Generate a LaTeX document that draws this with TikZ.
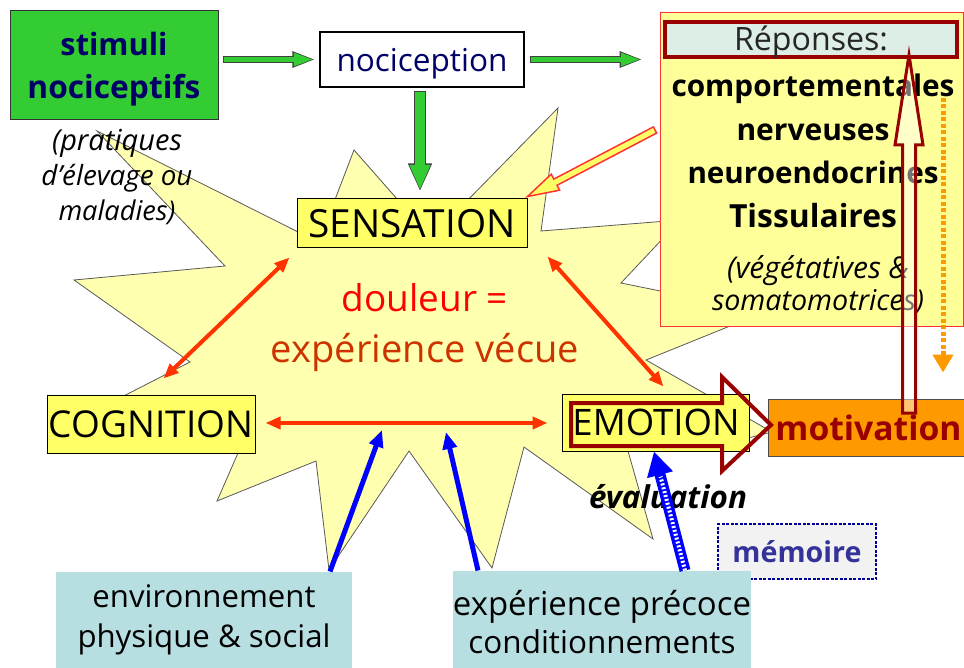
\documentclass[tikz,border=0pt]{standalone}
\usepackage{fontspec}
\setmainfont{Open Sans}
\usepackage{graphicx}
\usetikzlibrary{arrows.meta,calc}
\lineskiplimit=-1000pt
\definecolor{stimgreen}{HTML}{33CC33}
\definecolor{navy}{HTML}{000066}
\definecolor{boxyellow}{HTML}{FFFF66}
\definecolor{staryellow}{HTML}{FFFFB0}
\definecolor{repyellow}{HTML}{FFFF99}
\definecolor{repred}{HTML}{FF3333}
\definecolor{headfill}{HTML}{DDEEE6}
\definecolor{darkred}{HTML}{990000}
\definecolor{painred}{HTML}{FF0000}
\definecolor{painorange}{HTML}{CC3300}
\definecolor{arrowred}{HTML}{FF3300}
\definecolor{motorange}{HTML}{FF9900}
\definecolor{pureblue}{HTML}{0000FF}
\definecolor{envblue}{HTML}{B7DEE1}
\definecolor{memblue}{HTML}{000099}
\definecolor{memfill}{HTML}{F2F2F2}
\definecolor{memtext}{HTML}{333399}
\newcommand\fw[2]{\resizebox{#1pt}{!}{#2}}
\newcommand\lowr[2]{\raisebox{-#1pt}[\height][\depth]{#2}}
\begin{document}
\begin{tikzpicture}[x=1pt,y=-1pt,
  box/.style={draw, rectangle, inner sep=0pt, line width=1pt, align=center},
  ybox/.style={box, fill=boxyellow, draw=black},
  gout/.style={line width=#1, draw=black!75},
  orarrow/.style={line width=4pt, draw=arrowred, {Triangle[width=12pt,length=15pt]}-{Triangle[width=12pt,length=15pt]}},
  bluearrow/.style={line width=5pt, draw=pureblue, -{Triangle[width=14pt,length=17pt]}},
  txt/.style={inner sep=0pt, align=center}]
\useasboundingbox (0,0) rectangle (964,668);
\fill[white] (0,0) rectangle (964,668);

% starburst
\draw[fill=staryellow, draw=black!65, line width=0.8pt]
  (97,131) -- (320,243) -- (331,210) -- (354,150) -- (405,208) -- (460,208)
  -- (558,108) -- (541,231) -- (680,220) -- (668,233) -- (621,283) -- (680,295)
  -- (740,322) -- (646,360) -- (772,432) -- (740,440) -- (622,430) -- (653,539)
  -- (524,447) -- (492,568) -- (409,451) -- (329,570) -- (316,461) -- (217,501)
  -- (245,437) -- (110,403) -- (190,362) -- (74,280) -- (225,266) -- cycle;

% boxes
\node[box, fill=stimgreen, draw=black!80, minimum width=208pt, minimum height=109pt,
  text=navy, font=\fontsize{30}{43}\selectfont\bfseries] (stim) at (114,65.5)
  {\lowr{3.5}{\fw{107}{stimuli}}\\\lowr{3.5}{\fw{173}{nociceptifs}}};
\node[box, fill=white, line width=1.5pt, minimum width=204pt, minimum height=55pt, text=navy]
  (noci) at (422,59.5) {\lowr{4.5}{\fw{171}{nociception}}};
\node[txt, font=\fontsize{28}{35}\selectfont\itshape] (prat) at (117,177)
  {\fw{130}{(pratiques}\\\fw{151}{d'élevage ou}\\\fw{117}{maladies)}};
\node[ybox, minimum width=230pt, minimum height=49pt] (sens) at (412,223.5) {\fw{207}{SENSATION}};

\node[box, fill=repyellow, draw=repred, minimum width=303pt, minimum height=314pt] (rep) at (811.5,170) {};
\node[box, fill=headfill, draw=darkred, line width=4pt, minimum width=292pt, minimum height=35pt,
  text=black!85] (head) at (811,39.5) {\lowr{3}{\fw{154}{Réponses:}}};
\node[txt, font=\fontsize{30}{43.5}\selectfont\bfseries] (resp) at (813,151)
  {\fw{283}{comportementales}\\\fw{153}{nerveuses}\\\fw{251}{neuroendocrines}\\\fw{168}{Tissulaires}};
\node[txt, font=\fontsize{26}{32}\selectfont\itshape] (veg) at (818,285)
  {\fw{182}{(végétatives \&}\\\fw{212}{somatomotrices)}};

\node[txt, font=\fontsize{36}{51}\selectfont] (doul) at (425,328)
  {\textcolor{painred}{\fw{166}{douleur =}}\\\textcolor{painorange}{\fw{308}{expérience vécue}}};

\node[ybox, minimum width=208pt, minimum height=58pt] (cog) at (151,424) {\fw{204}{COGNITION}};
\node[ybox, minimum width=187pt, minimum height=57pt] (emobox) at (655.5,422.5) {};
\node[box, fill=motorange, draw=black!70, minimum width=200pt, minimum height=57pt, anchor=west,
  text=darkred, font=\bfseries] (motiv) at (768,427.5) {\fw{186}{motivation}};
% emotion block arrow
\draw[darkred, line width=4pt, line join=miter]
  (571,403) -- (722,403) -- (722,377) -- (771,425) -- (722,471) -- (722,446) -- (571,446) -- cycle;
\node[txt] (emo) at (656,422) {\fw{167}{EMOTION}};

\node[txt, font=\bfseries\itshape] (eval) at (668,497) {\fw{158}{évaluation}};
\node[box, fill=memfill, draw=memblue, line width=2pt, dash pattern=on 3pt off 1.5pt,
  minimum width=158pt, minimum height=55pt, text=memtext, font=\bfseries] (mem) at (797,551.5) {\fw{129}{mémoire}};
\node[box, draw=none, fill=envblue, minimum width=296pt, minimum height=96pt,
  font=\fontsize{30}{40}\selectfont] (env) at (204,620)
  {\fw{223}{environnement}\\\fw{253}{physique \& social}};
\node[box, draw=none, fill=envblue, minimum width=296pt, minimum height=97pt,
  font=\fontsize{30}{38}\selectfont] (expbox) at (602,619.5)
  {\lowr{3}{\fw{298}{expérience précoce}}\\\lowr{3}{\fw{267}{conditionnements}}};

% green arrows
\draw[gout=7pt, -{Triangle[width=15pt,length=23pt]}, shorten <=4pt, shorten >=4pt] (stim.east |- noci.west) -- (noci.west);
\draw[line width=5pt, stimgreen, -{Triangle[width=12pt,length=20pt]}, shorten <=5pt, shorten >=5.5pt] (stim.east |- noci.west) -- (noci.west);
\draw[gout=7pt, -{Triangle[width=15pt,length=23pt]}, shorten <=5pt, shorten >=17pt] (noci.east) -- (rep.west |- noci.east);
\draw[line width=5pt, stimgreen, -{Triangle[width=12pt,length=20pt]}, shorten <=6pt, shorten >=18.5pt] (noci.east) -- (rep.west |- noci.east);
\draw[gout=12pt, -{Triangle[width=22pt,length=28pt]}, shorten <=3pt, shorten >=7pt] (noci.south -| 420,0) -- (sens.north -| 420,0);
\draw[line width=10pt, stimgreen, -{Triangle[width=19pt,length=25pt]}, shorten <=4pt, shorten >=8.5pt] (noci.south -| 420,0) -- (sens.north -| 420,0);

% red/yellow arrow to sensation
\draw[repred, line width=1.5pt, fill=boxyellow, line join=miter]
  (sens.north east) ++(0,-2) -- (559.6,190.2) -- (557.0,185.3) -- (656.6,133.1) -- (653.4,126.9)
  -- (553.8,179.1) -- (551.2,174.2) -- cycle;

% orange double arrows
\draw[orarrow] ($(sens.south west)+(-7,9)$) -- ($(cog.north east)+(-92,-16)$);
\draw[orarrow] ($(sens.south east)+(20,8)$) -- ($(emobox.north)+(8,-7)$);
\draw[orarrow] ($(cog.east)+(10,-1)$) -- ($(emobox.west)+(-14,0.5)$);

% blue arrows
\coordinate (j1) at (382,430);
\coordinate (j2) at (446,432);
\draw[bluearrow] ($(env.north)+(126,0)$) -- (j1);
\draw[bluearrow] ($(expbox.north)+(-124,0)$) -- (j2);
\draw[line width=11pt, pureblue, -{Triangle[width=25pt,length=24pt]}] ($(expbox.north)+(83,0)$) -- ($(emobox.south)+(-1.5,0)$);
\draw[line width=4pt, white, dash pattern=on 2pt off 2pt, shorten >=26pt] ($(expbox.north)+(83,0)$) -- ($(emobox.south)+(-1.5,0)$);

% response arrows
\coordinate (d1) at (943,98);
\draw[motorange, line width=5pt, dash pattern=on 4pt off 2.5pt, -{Triangle[width=20pt,length=18pt]}, shorten >=26pt] (d1) -- (motiv.north -| d1);
\draw[darkred, line width=3pt, fill=white, fill opacity=0.45, line join=miter]
  (902.5,413) -- (902.5,145) -- (895,145) -- (909,55) -- (923,145) -- (915.5,145) -- (915.5,413) -- cycle;
\end{tikzpicture}
\end{document}
